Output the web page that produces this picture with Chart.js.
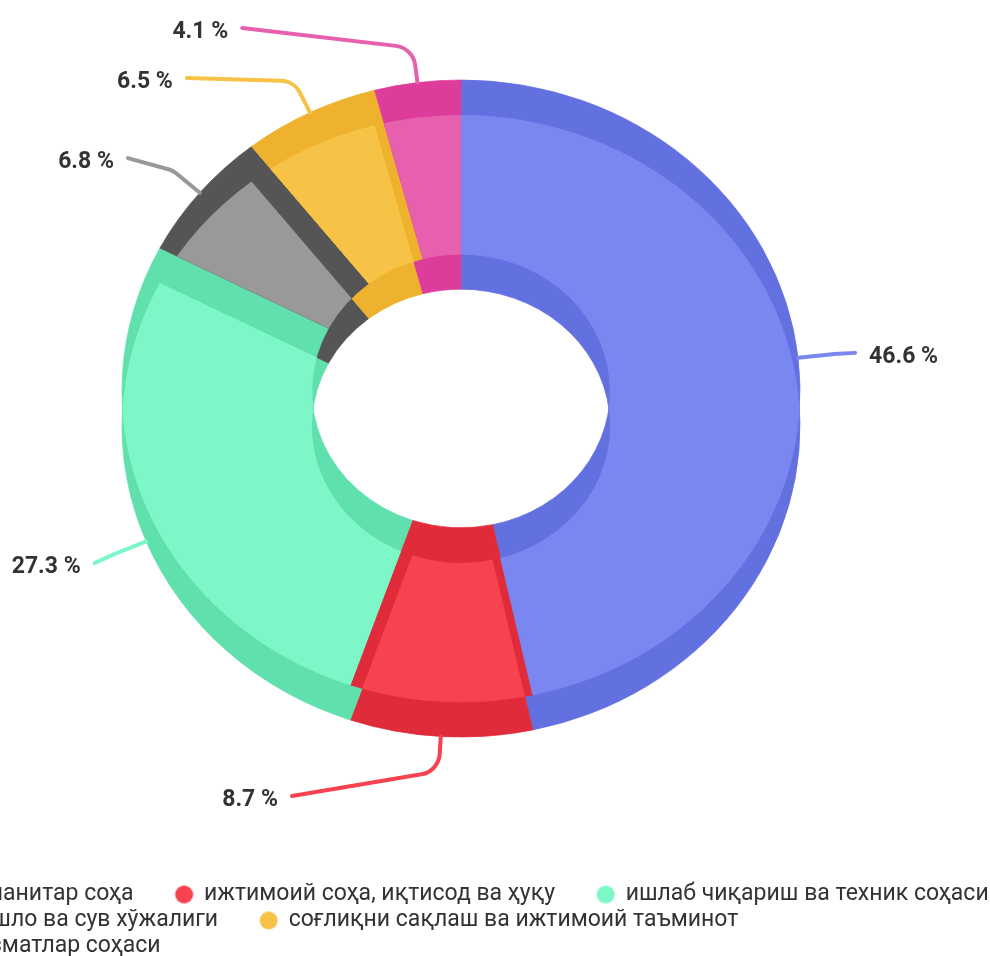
<!DOCTYPE html>
<html>
<head>
<meta charset="utf-8">
<script src="https://cdn.jsdelivr.net/npm/chart.js@4.4.1/dist/chart.umd.min.js"></script>
<style>
  html, body { margin: 0; padding: 0; background: #fff; overflow: hidden; width: 990px; height: 956px; }
  #wrap { position: absolute; left: -105px; top: 0; }
</style>
</head>
<body>
<div id="wrap"><canvas id="ring" height="968"></canvas></div>
<script>
// data
const categories = [
  'гуманитар соҳа',
  'ижтимоий соҳа, иқтисод ва ҳуқу',
  'ишлаб чиқариш ва техник соҳаси',
  'қишло ва сув хўжалиги',
  'соғлиқни сақлаш ва ижтимоий таъминот',
  'хизматлар соҳаси'
];
const shares = [46.6, 8.7, 27.3, 6.8, 6.5, 4.1];
const faceColors = ['#7b87f0', '#f6434f', '#7ef7c8', '#999999', '#f6c347', '#e660ae'];
const wallColors = ['#6370e0', '#e02c3a', '#5fe0ad', '#555555', '#eeb22e', '#dd3c9a'];

// the canvas starts left of the window so the legend is cut like the original
const SHIFT = 105;
const ring = { x: 461 + SHIFT, y: 391, rx: 339, ry: 311, depth: 35 };
const labelPos = { cx: 461 + SHIFT, cy: 400, rx: 410, ry: 447, midY: 396, up: 367, down: 461, top: 30, bottom: 800, gap: 50 };

const legendFont = 23, legendPad = 3, markW = 56;

// legend marker: circle sitting at the right end of a wide box (gives the big gap between items)
const markers = faceColors.map(c => {
  const m = document.createElement('canvas');
  m.width = markW + 2; m.height = 20;
  const g = m.getContext('2d');
  g.fillStyle = c;
  g.beginPath();
  g.arc(markW - 7.5, 10, 9, 0, Math.PI * 2);
  g.fill();
  return m;
});

// pick a canvas width that wraps the legend 3 / 2 / 1 like the original
const canvas = document.getElementById('ring');
(function () {
  const g = document.createElement('canvas').getContext('2d');
  g.font = legendFont + 'px Roboto';
  const w = categories.map(t => markW + legendFont / 2 + g.measureText(t).width);
  const r1 = w[0] + w[1] + w[2] + 4 * legendPad;
  const r2 = w[3] + w[4] + w[5] + 4 * legendPad;
  canvas.width = Math.round(r1 < r2 ? (r1 + r2) / 2 : r1);
})();

function place(ctx, el, dy) {
  const sx = ring.rx / el.outerRadius, sy = ring.ry / el.outerRadius;
  ctx.setTransform(sx, 0, 0, sy, ring.x - sx * el.x, ring.y + dy - sy * el.y);
}

function drawIn(ctx, el, color) {
  const o = el.options;
  const bg = o.backgroundColor, bc = o.borderColor;
  o.backgroundColor = color;
  o.borderColor = color;
  el.draw(ctx);
  o.backgroundColor = bg;
  o.borderColor = bc;
}

function paint(ctx, arcs, colors, dy) {
  place(ctx, arcs[0], dy);
  arcs.forEach((el, i) => drawIn(ctx, el, colors[i]));
}

const ring3d = {
  id: 'ring3d',
  beforeDatasetsDraw(chart) {
    const ctx = chart.ctx;
    const arcs = chart.getDatasetMeta(0).data;
    ctx.save();
    paint(ctx, arcs, wallColors, ring.depth); // bottom face
    paint(ctx, arcs, wallColors, 0);          // walls seen through the top
    // light top of each slice only where its own bottom is behind it
    arcs.forEach((el, i) => {
      ctx.save();
      place(ctx, el, ring.depth);
      ctx.beginPath();
      ctx.arc(el.x, el.y, el.outerRadius, el.startAngle, el.endAngle);
      ctx.arc(el.x, el.y, el.innerRadius, el.endAngle, el.startAngle, true);
      ctx.closePath();
      ctx.clip();
      place(ctx, el, 0);
      drawIn(ctx, el, faceColors[i]);
      ctx.restore();
    });
    ctx.restore();
    return false;
  },
  afterDraw(chart) {
    const ctx = chart.ctx;
    const arcs = chart.getDatasetMeta(0).data;
    const items = arcs.map((el, i) => {
      const a = (el.startAngle + el.endAngle) / 2;
      const c = Math.cos(a), s = Math.sin(a);
      return { i, c, s, side: c < 0 ? -1 : 1, y: labelPos.midY + s * (s < 0 ? labelPos.up : labelPos.down) };
    });
    [-1, 1].forEach(side => {
      const list = items.filter(d => d.side === side).sort((p, q) => p.y - q.y);
      list.forEach((d, k) => {
        d.y = Math.max(d.y, labelPos.top, k ? list[k - 1].y + labelPos.gap : -Infinity);
      });
      for (let k = list.length - 1; k >= 0; k--) {
        list[k].y = Math.min(list[k].y, labelPos.bottom, k < list.length - 1 ? list[k + 1].y - labelPos.gap : Infinity);
      }
    });
    ctx.save();
    ctx.font = 'bold 23px Roboto';
    ctx.textBaseline = 'middle';
    items.forEach(d => {
      const x0 = ring.x + ring.rx * d.c;
      const y0 = ring.y + ring.ry * d.s + (d.s > 0 ? ring.depth : 0);
      const x1 = x0 + 35 * d.c, y1 = y0 + 35 * d.s;
      const e = (d.y - labelPos.cy) / labelPos.ry;
      const tx = labelPos.cx + d.side * labelPos.rx * Math.sqrt(Math.max(0, 1 - e * e));
      const x2 = tx - d.side * 14, y2 = d.y - 4;
      ctx.strokeStyle = faceColors[d.i];
      ctx.lineWidth = 4;
      ctx.lineCap = 'round';
      ctx.beginPath();
      ctx.moveTo(x0, y0);
      ctx.arcTo(x1, y1, x2, y2, 22);
      ctx.lineTo(x2, y2);
      ctx.stroke();
      ctx.fillStyle = '#333';
      ctx.textAlign = d.side < 0 ? 'right' : 'left';
      ctx.fillText(shares[d.i].toFixed(1) + ' %', tx, d.y);
    });
    ctx.restore();
  }
};

new Chart(canvas, {
  type: 'doughnut',
  data: {
    labels: categories,
    datasets: [{
      data: shares,
      backgroundColor: faceColors,
      borderColor: faceColors,
      borderWidth: 1
    }]
  },
  options: {
    responsive: false,
    animation: false,
    cutout: '44%',
    layout: { padding: 0 },
    plugins: {
      tooltip: { enabled: false },
      legend: {
        position: 'bottom',
        align: 'start',
        labels: {
          usePointStyle: true,
          pointStyleWidth: markW,
          boxHeight: 14,
          padding: legendPad,
          color: '#333',
          font: { family: 'Roboto', size: legendFont },
          generateLabels: () => categories.map((text, i) => ({
            text,
            fillStyle: faceColors[i],
            strokeStyle: faceColors[i],
            lineWidth: 0,
            pointStyle: markers[i],
            fontColor: '#333',
            hidden: false,
            index: i
          }))
        }
      }
    }
  },
  plugins: [ring3d]
});
</script>
</body>
</html>
